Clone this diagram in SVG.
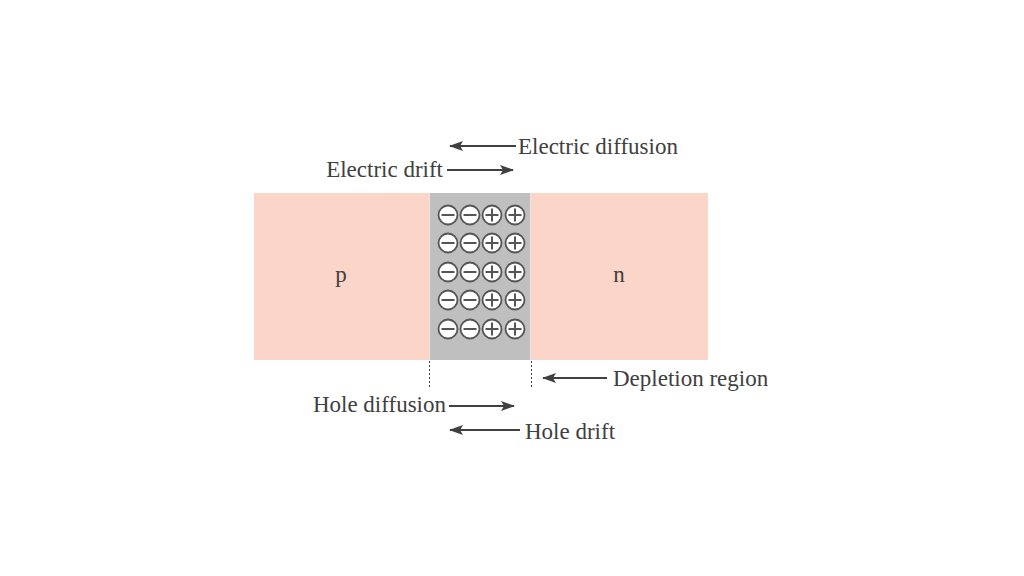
<svg xmlns="http://www.w3.org/2000/svg" width="1024" height="576" viewBox="0 0 1024 576">
<defs>
<marker id="ah" markerWidth="14" markerHeight="10" refX="13" refY="5" orient="auto" markerUnits="userSpaceOnUse">
<path d="M0,0 L14,5 L0,10 L3,5 Z" fill="#404040"/>
</marker>
<g id="minus"><circle r="9.5" fill="#fff" stroke="#555" stroke-width="1.8"/><line x1="-6.5" y1="0" x2="6.5" y2="0" stroke="#555" stroke-width="2"/></g>
<g id="plus"><circle r="9.5" fill="#fff" stroke="#555" stroke-width="1.8"/><line x1="-6.5" y1="0" x2="6.5" y2="0" stroke="#555" stroke-width="2"/><line x1="0" y1="-6.5" x2="0" y2="6.5" stroke="#555" stroke-width="2"/></g>
</defs>
<style>
text{font-family:"Liberation Serif","DejaVu Serif",serif;font-size:23px;fill:#404040}
.arr{stroke:#404040;stroke-width:2.2;fill:none;marker-end:url(#ah)}
.dot{stroke:#404040;stroke-width:1;stroke-dasharray:2,2}
</style>
<rect width="1024" height="576" fill="#fff"/>
<g id="p-region"><rect x="254" y="193" width="175" height="167" fill="#FBD5C7"/><text x="341" y="282" text-anchor="middle">p</text></g>
<g id="n-region"><rect x="531" y="193" width="177" height="167" fill="#FBD5C7"/><text x="619" y="282" text-anchor="middle">n</text></g>
<g id="depletion">
<rect x="429" y="193" width="102" height="167" fill="#BFBFBF"/>
<line x1="429.5" y1="193" x2="429.5" y2="360" stroke="#e8e8e8" stroke-width="1"/>
<line x1="530.5" y1="193" x2="530.5" y2="360" stroke="#e8e8e8" stroke-width="1"/>
<use href="#minus" x="448" y="215"/><use href="#minus" x="470" y="215"/><use href="#plus" x="492" y="215"/><use href="#plus" x="515" y="215"/>
<use href="#minus" x="448" y="243"/><use href="#minus" x="470" y="243"/><use href="#plus" x="492" y="243"/><use href="#plus" x="515" y="243"/>
<use href="#minus" x="448" y="272"/><use href="#minus" x="470" y="272"/><use href="#plus" x="492" y="272"/><use href="#plus" x="515" y="272"/>
<use href="#minus" x="448" y="300"/><use href="#minus" x="470" y="300"/><use href="#plus" x="492" y="300"/><use href="#plus" x="515" y="300"/>
<use href="#minus" x="448" y="329"/><use href="#minus" x="470" y="329"/><use href="#plus" x="492" y="329"/><use href="#plus" x="515" y="329"/>
</g>
<g id="connectors">
<line class="dot" x1="429.5" y1="361" x2="429.5" y2="388"/>
<line class="dot" x1="531.5" y1="361" x2="531.5" y2="388"/>
<line class="arr" x1="516" y1="146" x2="450" y2="146"/>
<line class="arr" x1="447" y1="170" x2="513" y2="170"/>
<line class="arr" x1="607" y1="378" x2="543" y2="378"/>
<line class="arr" x1="449" y1="406" x2="514" y2="406"/>
<line class="arr" x1="520" y1="430" x2="450" y2="430"/>
</g>
<g id="labels">
<text x="518" y="154">Electric diffusion</text>
<text x="443" y="177" text-anchor="end">Electric drift</text>
<text x="613" y="386">Depletion region</text>
<text x="446" y="412" text-anchor="end">Hole diffusion</text>
<text x="525" y="439">Hole drift</text>
</g>
</svg>
